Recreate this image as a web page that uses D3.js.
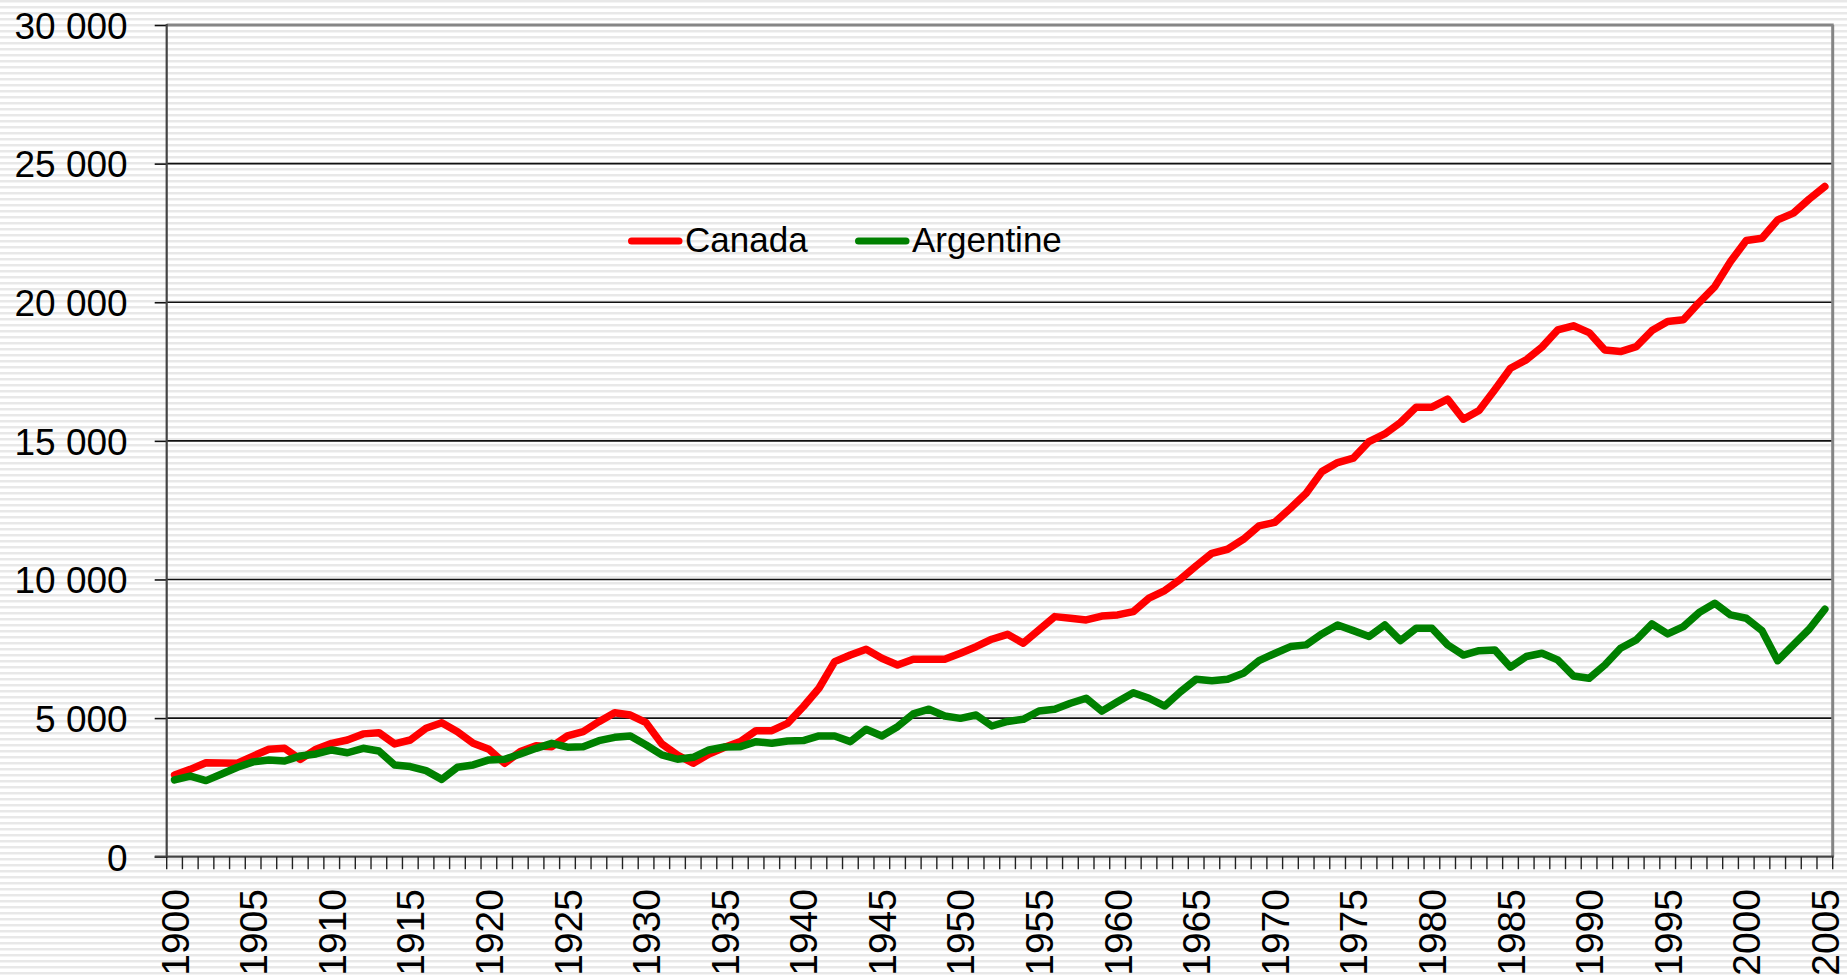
<!DOCTYPE html>
<html><head><meta charset="utf-8">
<script src="https://cdn.jsdelivr.net/npm/d3@7"></script>
<style>html,body{margin:0;padding:0;background:#fff;}svg{display:block;}</style>
</head><body>
<svg id="chart" width="1847" height="977"></svg>
<script>
const years = d3.range(1900, 2006);
const yTicks = [0, 5000, 10000, 15000, 20000, 25000, 30000];
const xLabelYears = d3.range(1900, 2006, 5);
const seriesNames = ["Canada", "Argentine"];
const seriesColors = ["#ff0000", "#008000"];
const canada = [2950,3150,3390,3380,3370,3630,3875,3910,3510,3875,
4090,4210,4430,4475,4070,4210,4630,4835,4510,4090,
3875,3370,3790,4000,3970,4355,4510,4870,5195,5110,
4835,4070,3670,3370,3705,3950,4150,4545,4545,4810,
5410,6075,7035,7275,7485,7160,6915,7120,7120,7120,
7340,7575,7845,8020,7700,8180,8660,8600,8540,8680,
8720,8840,9325,9600,10010,10490,10945,11090,11450,11930,
12060,12570,13110,13890,14215,14375,14975,15250,15660,16215,
16215,16505,15780,16095,16840,17620,17920,18380,19000,19150,
18905,18280,18220,18400,18980,19305,19365,19990,20565,21470,
22225,22310,22970,23215,23720,24175];
const argentine = [2770,2910,2745,2985,3225,3420,3490,3450,3635,3705,
3850,3750,3910,3815,3310,3250,3105,2790,3225,3310,
3490,3515,3705,3910,4090,3950,3970,4185,4305,4355,
4030,3670,3515,3585,3850,3955,3970,4150,4090,4175,
4190,4355,4355,4150,4595,4355,4690,5150,5320,5075,
4990,5110,4715,4880,4955,5255,5315,5535,5715,5250,
5590,5915,5715,5435,5950,6400,6350,6400,6615,7070,
7330,7580,7640,8035,8360,8155,7940,8360,7795,8240,
8240,7640,7275,7430,7460,6835,7220,7340,7100,6520,
6435,6915,7520,7820,8395,8035,8300,8805,9140,8720,
8600,8155,7070,7640,8205,8925];
const seriesValues = [canada, argentine];

const svg = d3.select("#chart");
const L = 166.7, R = 1832.7, T = 25, B = 856.7;

// striped background
const defs = svg.append("defs");
const pat = defs.append("pattern").attr("id","stripes").attr("patternUnits","userSpaceOnUse")
  .attr("width", 10).attr("height", 6);
pat.append("rect").attr("width",10).attr("height",6).attr("fill","#ffffff");
pat.append("rect").attr("y",0).attr("width",10).attr("height",2).attr("fill","#e8e8e8");
pat.append("rect").attr("y",2).attr("width",10).attr("height",1).attr("fill","#f4f4f4");
svg.append("rect").attr("width",1847).attr("height",977).attr("fill","url(#stripes)");

const x = d3.scaleBand().domain(years).range([L, R]).padding(0);
const xc = d => x(d) + x.bandwidth() / 2;
const y = d3.scaleLinear().domain([0, 30000]).range([B, T]);

const loc = d3.formatLocale({decimal: ",", thousands: " ", grouping: [3], currency: ["", ""]});
const fmt = loc.format(",");

// gridlines
svg.append("g").selectAll("line").data(yTicks.filter(v => v > 0 && v < 30000)).join("line")
  .attr("x1", L).attr("x2", R).attr("y1", d => y(d)).attr("y2", d => y(d))
  .attr("stroke", "#111").attr("stroke-width", 1.6);

// border top & right
svg.append("line").attr("x1", L).attr("x2", R + 1).attr("y1", y(30000)).attr("y2", y(30000))
  .attr("stroke", "#858585").attr("stroke-width", 3);
svg.append("line").attr("x1", R).attr("x2", R).attr("y1", T).attr("y2", B)
  .attr("stroke", "#858585").attr("stroke-width", 3);

// lines
const line = d3.line().x((d, i) => xc(years[i])).y(d => y(d));
svg.append("g").selectAll("path").data(seriesValues).join("path")
  .attr("d", d => line(d)).attr("fill", "none")
  .attr("stroke", (d, i) => seriesColors[i]).attr("stroke-width", 7.5)
  .attr("stroke-linejoin", "round").attr("stroke-linecap", "round");

// y axis
const yAxis = d3.axisLeft(y).tickValues(yTicks).tickFormat(fmt).tickSize(12).tickPadding(27);
const gy = svg.append("g").attr("transform", `translate(${L},0)`).call(yAxis);
gy.select(".domain").remove();
gy.selectAll(".tick line").attr("stroke", "#111").attr("stroke-width", 1.6);
gy.selectAll(".tick text").attr("font-family", "'Liberation Sans', Arial, sans-serif")
  .attr("font-size", 37).attr("fill", "#000").attr("dy", "0.36em");
svg.append("line").attr("x1", L).attr("x2", L).attr("y1", T - 1).attr("y2", B + 1)
  .attr("stroke", "#444").attr("stroke-width", 2.2);

// x axis
svg.append("line").attr("x1", L - 12).attr("x2", R + 1).attr("y1", B).attr("y2", B)
  .attr("stroke", "#444").attr("stroke-width", 2.2);
const boundaries = years.map(d => x(d)).concat([R]);
svg.append("g").selectAll("line").data(boundaries).join("line")
  .attr("x1", d => d).attr("x2", d => d).attr("y1", B).attr("y2", B + 12.5)
  .attr("stroke", "#222").attr("stroke-width", 1.4);
svg.append("g").selectAll("text").data(xLabelYears).join("text")
  .attr("transform", d => `translate(${xc(d)},889) rotate(-90)`)
  .attr("text-anchor", "end").attr("dy", "0.36em")
  .attr("font-family", "'Liberation Sans', Arial, sans-serif").attr("font-size", 39)
  .attr("fill", "#000").text(d => d);

// legend
const legX = [628, 855];
const lg = svg.append("g").selectAll("g").data(seriesNames).join("g");
lg.append("line").attr("x1", (d, i) => legX[i] + 3.5).attr("x2", (d, i) => legX[i] + 51)
  .attr("y1", 241).attr("y2", 241)
  .attr("stroke", (d, i) => seriesColors[i]).attr("stroke-width", 7).attr("stroke-linecap", "round");
lg.append("text").attr("x", (d, i) => legX[i] + 57).attr("y", 252)
  .attr("font-family", "'Liberation Sans', Arial, sans-serif").attr("font-size", 35)
  .attr("fill", "#000").text(d => d);
</script>
</body></html>
